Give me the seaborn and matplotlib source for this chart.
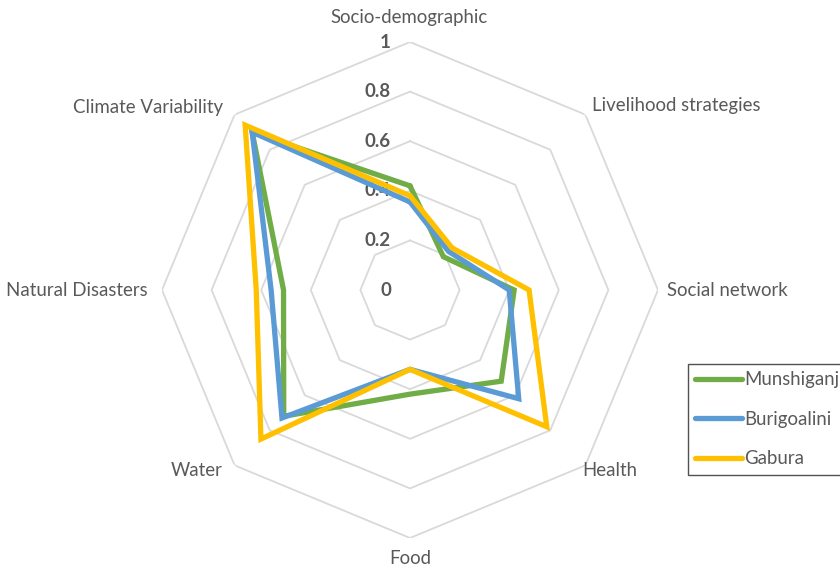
import numpy as np
import pandas as pd
import matplotlib
matplotlib.use("Agg")
import matplotlib.pyplot as plt
import matplotlib.transforms as mtransforms
from matplotlib.lines import Line2D
import seaborn as sns

# Vulnerability components, clockwise from the top
categories = ["Socio-demographic", "Livelihood strategies", "Social network", "Health",
              "Food", "Water", "Natural Disasters", "Climate Variability"]
sites = ["Munshiganj", "Burigoalini", "Gabura"]
munshiganj = [0.42, 0.19, 0.42, 0.52, 0.42, 0.72, 0.51, 0.90]
burigoalini = [0.355, 0.22, 0.40, 0.62, 0.32, 0.73, 0.56, 0.90]
gabura = [0.38, 0.24, 0.48, 0.78, 0.32, 0.85, 0.62, 0.94]
ring_levels = [0, 0.2, 0.4, 0.6, 0.8, 1]
ring_labels = ["0", "0.2", "0.4", "0.6", "0.8", "1"]

colors = {"Munshiganj": "#70AD47", "Burigoalini": "#5B9BD5", "Gabura": "#FFC000"}
text_grey = "#595959"
grid_grey = "#D9D9D9"

sns.set_style("white")
plt.rcParams["font.family"] = ["Lato", "DejaVu Sans"]

W, H = 840, 570
fig = plt.figure(figsize=(W / 100, H / 100), dpi=100)
cx, cy, R = 410, 290, 248
ax = fig.add_axes([(cx - R) / W, (H - cy - R) / H, 2 * R / W, 2 * R / H], projection="polar")
ax.set_theta_offset(np.pi / 2)
ax.set_theta_direction(-1)
ax.set_ylim(0, 1)
ax.grid(False)
ax.spines["polar"].set_visible(False)
ax.set_xticks([])
ax.set_yticks([])
ax.patch.set_alpha(0)

n = len(categories)
theta = np.linspace(0, 2 * np.pi, n + 1)

# octagonal grid rings
for lvl in ring_levels[1:]:
    ax.plot(theta, [lvl] * (n + 1), color=grid_grey, lw=1.3, zorder=1)

# long-format table, each polygon closed by repeating its first vertex
rows = []
for site, vals in zip(sites, [munshiganj, burigoalini, gabura]):
    closed = list(vals) + [vals[0]]
    for t, v in zip(theta, closed):
        rows.append({"theta": t, "value": v, "site": site})
df = pd.DataFrame(rows)

sns.lineplot(data=df, x="theta", y="value", hue="site", hue_order=sites,
             palette=colors, sort=False, estimator=None, lw=3.8,
             legend=False, ax=ax, zorder=3)
for ln in ax.lines[len(ring_levels) - 1:]:
    ln.set_solid_joinstyle("miter")
ax.set_xlabel("")
ax.set_ylabel("")

# radial value labels along the upward axis
off = mtransforms.offset_copy(ax.transData, fig=fig, x=-19, y=0, units="dots")
for lvl, lab in zip(ring_levels, ring_labels):
    ax.text(0, lvl, lab, transform=off, ha="right", va="center",
            fontsize=13.5, fontweight="bold", color=text_grey, zorder=2)

# category labels around the chart (pixel positions)
cat_pos = [
    (409, 18, "center"), (592, 105, "left"), (667, 290, "left"), (582, 470, "left"),
    (410, 558, "center"), (223, 470, "right"), (148, 290, "right"), (223, 107, "right"),
]
for name, (px, py, ha) in zip(categories, cat_pos):
    fig.text(px / W, 1 - py / H, name, ha=ha, va="center", fontsize=13.4, color=text_grey)

handles = [Line2D([], [], color=colors[s], lw=3.8, solid_capstyle="round") for s in sites]
leg = fig.legend(handles, sites, loc="upper left",
                 bbox_to_anchor=(688 / W, 1 - 364 / H), frameon=True, fancybox=False,
                 fontsize=13.4, handlelength=2.5, handletextpad=0.12, labelspacing=1.2,
                 borderpad=0.4, borderaxespad=0)
leg.get_frame().set_edgecolor("#262626")
leg.get_frame().set_linewidth(1.0)
for t in leg.get_texts():
    t.set_color(text_grey)

fig.savefig("out.png", dpi=100, facecolor="white")
